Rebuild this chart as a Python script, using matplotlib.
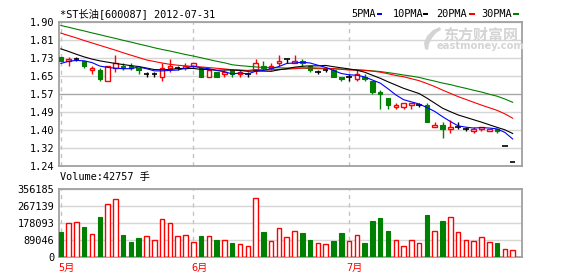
import matplotlib
matplotlib.use("Agg")
import matplotlib.pyplot as plt
from matplotlib.patches import Rectangle, Polygon
from matplotlib.transforms import blended_transform_factory
import numpy as np

# ---------------- data ----------------
title_text = "*ST长油[600087] 2012-07-31"
volume_text = "Volume:42757 手"
month_labels = ["5月", "6月", "7月"]
month_index = [0, 17, 37]

open_ = [1.74, 1.72, 1.73, 1.72, 1.68, 1.68, 1.63, 1.69, 1.70, 1.70,
         1.69, 1.66, 1.66, 1.65, 1.69, 1.69, 1.69, 1.70, 1.69, 1.65,
         1.67, 1.66, 1.68, 1.66, 1.66, 1.68, 1.70, 1.69, 1.71, 1.73,
         1.71, 1.72, 1.70, 1.67, 1.68, 1.68, 1.65, 1.65, 1.64, 1.65,
         1.63, 1.58, 1.55, 1.51, 1.51, 1.52, 1.52, 1.52, 1.42, 1.43,
         1.41, 1.42, 1.41, 1.40, 1.41, 1.40, 1.41, 1.33, 1.26]
high = [1.74, 1.74, 1.74, 1.72, 1.70, 1.69, 1.70, 1.75, 1.71, 1.71,
        1.69, 1.67, 1.67, 1.71, 1.73, 1.70, 1.71, 1.71, 1.69, 1.68,
        1.67, 1.68, 1.68, 1.68, 1.67, 1.73, 1.72, 1.71, 1.75, 1.73,
        1.75, 1.73, 1.70, 1.68, 1.69, 1.69, 1.65, 1.66, 1.68, 1.66,
        1.63, 1.59, 1.55, 1.53, 1.53, 1.53, 1.53, 1.53, 1.44, 1.44,
        1.45, 1.44, 1.42, 1.42, 1.42, 1.41, 1.41, 1.33, 1.26]
low = [1.72, 1.70, 1.72, 1.69, 1.66, 1.63, 1.63, 1.67, 1.68, 1.68,
       1.66, 1.65, 1.65, 1.63, 1.67, 1.68, 1.68, 1.69, 1.65, 1.65,
       1.65, 1.65, 1.65, 1.65, 1.65, 1.66, 1.68, 1.68, 1.70, 1.71,
       1.71, 1.70, 1.67, 1.66, 1.67, 1.65, 1.63, 1.63, 1.63, 1.63,
       1.57, 1.50, 1.50, 1.50, 1.50, 1.50, 1.51, 1.44, 1.42, 1.37,
       1.39, 1.41, 1.40, 1.39, 1.40, 1.40, 1.39, 1.33, 1.26]
close = [1.72, 1.73, 1.73, 1.70, 1.69, 1.64, 1.70, 1.71, 1.69, 1.69,
         1.68, 1.66, 1.66, 1.69, 1.70, 1.69, 1.70, 1.71, 1.65, 1.68,
         1.65, 1.67, 1.66, 1.67, 1.66, 1.71, 1.69, 1.70, 1.72, 1.73,
         1.72, 1.71, 1.68, 1.67, 1.68, 1.65, 1.64, 1.65, 1.66, 1.64,
         1.58, 1.57, 1.52, 1.52, 1.53, 1.53, 1.52, 1.44, 1.43, 1.41,
         1.42, 1.42, 1.41, 1.41, 1.42, 1.41, 1.40, 1.33, 1.26]
volume = [133400, 179000, 184200, 157900, 121100, 212300, 279000, 303500, 117600, 80700,
          101800, 110500, 89500, 200000, 179000, 110500, 115800, 79000, 112300, 110500,
          89500, 89500, 75400, 68400, 57900, 310600, 133400, 84200, 152700, 105300,
          136900, 128100, 89500, 73700, 68400, 84200, 128100, 84200, 115800, 75400,
          189500, 205300, 136900, 93000, 57900, 89500, 73700, 222800, 136900, 189500,
          210600, 131600, 90000, 87700, 108400, 82700, 77500, 42000, 37000]

ma5 = [1.710, 1.720, 1.724, 1.722, 1.714, 1.698, 1.692, 1.688, 1.686, 1.686,
       1.694, 1.686, 1.676, 1.676, 1.678, 1.680, 1.688, 1.698, 1.690, 1.686,
       1.678, 1.672, 1.662, 1.666, 1.662, 1.674, 1.678, 1.686, 1.696, 1.710,
       1.712, 1.716, 1.712, 1.702, 1.692, 1.678, 1.664, 1.658, 1.656, 1.648,
       1.634, 1.620, 1.594, 1.566, 1.544, 1.534, 1.524, 1.508, 1.490, 1.466,
       1.444, 1.424, 1.418, 1.414, 1.416, 1.414, 1.410, 1.394, 1.364]
ma10 = [1.777, 1.765, 1.752, 1.740, 1.730, 1.722, 1.716, 1.710, 1.705, 1.700,
        1.696, 1.689, 1.682, 1.681, 1.682, 1.687, 1.687, 1.687, 1.683, 1.682,
        1.679, 1.680, 1.680, 1.678, 1.674, 1.676, 1.675, 1.674, 1.681, 1.686,
        1.693, 1.697, 1.699, 1.699, 1.701, 1.695, 1.690, 1.685, 1.679, 1.670,
        1.656, 1.642, 1.626, 1.611, 1.596, 1.584, 1.572, 1.551, 1.528, 1.505,
        1.489, 1.474, 1.463, 1.452, 1.441, 1.429, 1.417, 1.406, 1.389]
ma20 = [1.849, 1.838, 1.827, 1.815, 1.804, 1.793, 1.782, 1.771, 1.759, 1.748,
        1.737, 1.726, 1.719, 1.712, 1.706, 1.702, 1.699, 1.696, 1.694, 1.691,
        1.688, 1.685, 1.681, 1.680, 1.678, 1.682, 1.681, 1.681, 1.682, 1.684,
        1.686, 1.689, 1.690, 1.689, 1.688, 1.686, 1.683, 1.680, 1.680, 1.678,
        1.675, 1.670, 1.663, 1.655, 1.649, 1.640, 1.631, 1.618, 1.604, 1.588,
        1.573, 1.558, 1.545, 1.532, 1.519, 1.507, 1.495, 1.479, 1.459]
ma30 = [1.884, 1.876, 1.867, 1.859, 1.850, 1.842, 1.833, 1.825, 1.816, 1.808,
        1.799, 1.791, 1.782, 1.774, 1.767, 1.759, 1.751, 1.744, 1.736, 1.728,
        1.720, 1.713, 1.704, 1.700, 1.697, 1.694, 1.692, 1.691, 1.690, 1.689,
        1.689, 1.689, 1.687, 1.686, 1.686, 1.686, 1.684, 1.682, 1.681, 1.679,
        1.676, 1.673, 1.668, 1.663, 1.657, 1.652, 1.646, 1.637, 1.629, 1.620,
        1.613, 1.604, 1.596, 1.587, 1.579, 1.569, 1.560, 1.547, 1.532]

ma_names = ["5PMA", "10PMA", "20PMA", "30PMA"]
ma_colors = ["#0000ff", "#000000", "#ff0000", "#008000"]

price_ticks = [1.24, 1.3225, 1.405, 1.4875, 1.57, 1.6525, 1.735, 1.8175, 1.90]
price_tick_labels = ["1.24", "1.32", "1.40", "1.49", "1.57", "1.65", "1.73", "1.81", "1.90"]
vol_ticks = [0, 89046, 178093, 267139, 356185]
vol_tick_labels = ["0", "89046", "178093", "267139", "356185"]

# ---------------- style ----------------
plt.rcParams["font.family"] = ["DejaVu Sans Mono", "Noto Sans CJK SC"]
FS = 7.4
RED, GREEN, BLACK = "#ff0000", "#008000", "#000000"
FRAME = "#a0a0a0"
GRID = "#d6d6d6"

W, H = 578, 276
fig = plt.figure(figsize=(W / 100, H / 100), dpi=100, facecolor="white")


def rect(left, top, right, bottom):
    return [left / W, 1 - bottom / H, (right - left) / W, (bottom - top) / H]


ax = fig.add_axes(rect(58.5, 22, 522, 166))
axv = fig.add_axes(rect(58.5, 189.3, 522, 257.3))

o = np.array(open_)
c = np.array(close)
hi = np.array(high)
lo = np.array(low)
x = np.arange(len(c))

up = c > o
down = c < o
flat = c == o

XL = (-0.3, 59.2)
for a in (ax, axv):
    a.set_xlim(*XL)
    for s in a.spines.values():
        s.set_color(FRAME)
        s.set_linewidth(1.3)
    a.set_xticks([])
    a.tick_params(axis="y", length=0, pad=3, labelsize=FS, colors="black")
    for m in month_index:
        a.axvline(m, color="#c4c4c4", lw=1.0, ls=(0, (3, 3)), zorder=1)

# price axis
ax.set_ylim(price_ticks[0], price_ticks[-1])
ax.set_yticks(price_ticks)
ax.set_yticklabels(price_tick_labels)
ax.yaxis.grid(True, color=GRID, lw=1.0, zorder=0)
ax.set_axisbelow(True)
ax.get_ygridlines()[4].set_color("#a8a8a8")

wick_cols = np.where(up, RED, np.where(down, GREEN, BLACK))
ax.vlines(x, lo, hi, colors=wick_cols, lw=1.0, zorder=3)
bw = 0.58
ax.bar(x[up], (c - o)[up], bottom=o[up], width=bw, facecolor="white",
       edgecolor=RED, lw=1.0, zorder=4)
ax.bar(x[down], (o - c)[down], bottom=c[down], width=bw, facecolor=GREEN,
       edgecolor=GREEN, lw=0.8, zorder=4)
ax.hlines(c[flat], x[flat] - 0.36, x[flat] + 0.36, colors=BLACK, lw=1.2, zorder=4)

for vals, col in zip([ma30, ma20, ma10, ma5], ma_colors[::-1]):
    ax.plot(x, vals, color=col, lw=0.8, zorder=5)

# volume axis
axv.set_ylim(vol_ticks[0], vol_ticks[-1])
axv.set_yticks(vol_ticks)
axv.set_yticklabels(vol_tick_labels)
axv.yaxis.grid(True, color=GRID, lw=1.0, zorder=0)
axv.set_axisbelow(True)
v = np.array(volume)
vdown = down
vup = ~down
axv.bar(x[vup], v[vup], width=bw, facecolor="white", edgecolor=RED, lw=1.0, zorder=3)
axv.bar(x[vdown], v[vdown], width=bw, facecolor=GREEN, edgecolor=GREEN, lw=0.8, zorder=3)

# month labels
tr = blended_transform_factory(axv.transData, axv.transAxes)
for m, lab in zip(month_index, month_labels):
    axv.text(m - 0.3, -0.15, lab, transform=tr, ha="left", va="center",
             color=RED, fontsize=FS)

# texts
fig.text(60 / W, 1 - 14 / H, title_text, ha="left", va="center", fontsize=FS)
fig.text(60 / W, 1 - 177 / H, volume_text, ha="left", va="center", fontsize=FS)

leg_text_x = [351.5, 392.5, 436.5, 481.5]
leg_box_x = [376.5, 422.5, 469.0, 513.0]
for name, col, tx, bx in zip(ma_names, ma_colors, leg_text_x, leg_box_x):
    fig.text(tx / W, 1 - 14 / H, name, ha="left", va="center", fontsize=FS)
    fig.add_artist(Rectangle((bx / W, 1 - 15.2 / H), 5.5 / W, 2.6 / H,
                             transform=fig.transFigure, facecolor=col,
                             edgecolor="none"))

# watermark
WM = "#d4d4d4"
fig.text(481 / W, 1 - 34.5 / H, "东方财富网", ha="center", va="center",
         fontsize=10.8, fontweight="bold", color=WM,
         family=["Noto Sans CJK SC"], zorder=6)
fig.text(481 / W, 1 - 46 / H, "eastmoney.com", ha="center", va="center",
         fontsize=7.2, fontweight="bold", color=WM,
         family=["DejaVu Sans"], zorder=6)
logo_px = [(440, 27), (433, 30), (427, 36), (424, 43), (425, 49), (428, 50),
           (429, 44), (432, 38), (436, 33), (441, 30)]
fig.add_artist(Polygon([(px / W, 1 - py / H) for px, py in logo_px], closed=True,
                       transform=fig.transFigure, facecolor=WM, edgecolor="none",
                       zorder=6))

fig.savefig("out.png", dpi=100, facecolor="white")
